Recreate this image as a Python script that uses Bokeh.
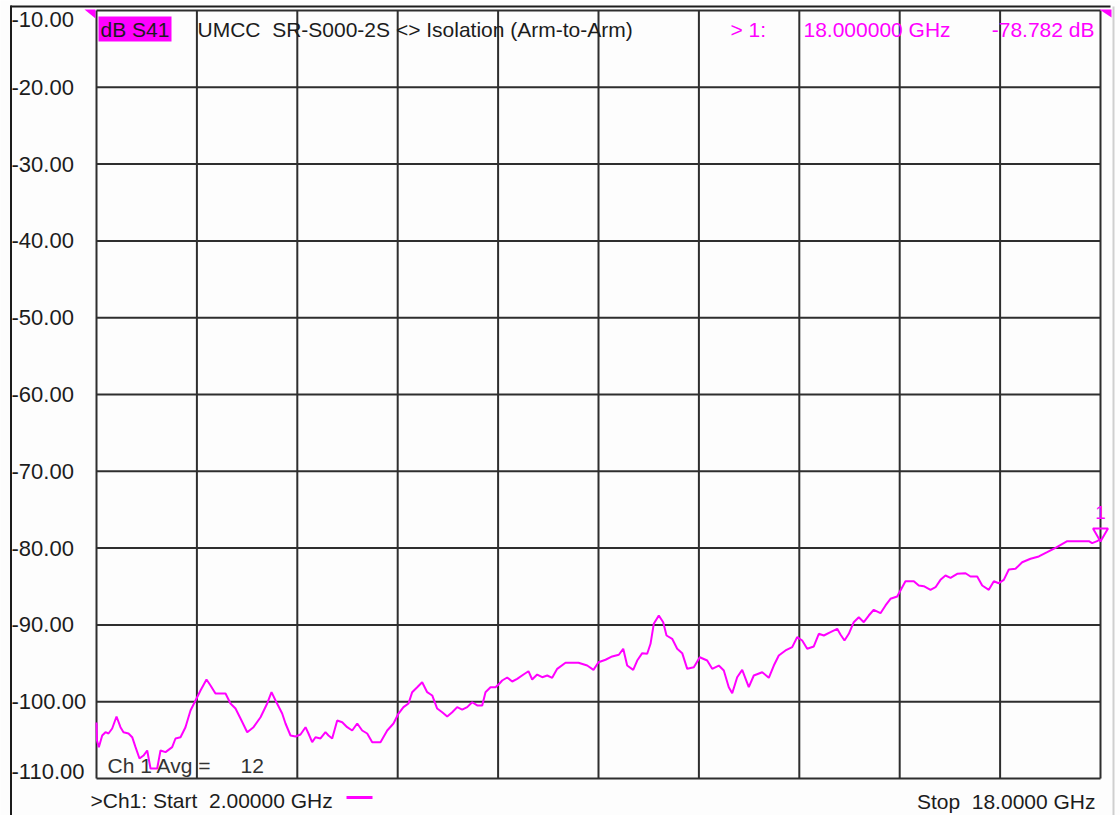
from bokeh.plotting import figure
from bokeh.models import Range1d
from bokeh.core.properties import value
from bokeh.embed import file_html
from bokeh.resources import INLINE
import numpy as np

# ---------------- data ----------------
START_GHZ = 2.0
STOP_GHZ = 18.0
Y_TOP = -10.0
Y_BOTTOM = -110.0
N_DIV = 10
y_ticks = [-10, -20, -30, -40, -50, -60, -70, -80, -90, -100, -110]
y_tick_labels = ["-10.00", "-20.00", "-30.00", "-40.00", "-50.00", "-60.00",
                 "-70.00", "-80.00", "-90.00", "-100.00", "-110.00"]

freq_ghz = [
    2.000, 2.008, 2.037, 2.091, 2.143, 2.191, 2.250, 2.319, 2.382, 2.430,
    2.510, 2.569, 2.622, 2.685, 2.749, 2.808, 2.861, 2.967, 3.020, 3.100,
    3.206, 3.259, 3.339, 3.418, 3.498, 3.578, 3.657, 3.753, 3.817, 3.896,
    3.976, 4.056, 4.135, 4.215, 4.295, 4.402, 4.502, 4.614, 4.720, 4.789,
    4.853, 4.959, 5.012, 5.092, 5.171, 5.251, 5.331, 5.378, 5.437, 5.490,
    5.570, 5.649, 5.697, 5.756, 5.836, 5.916, 5.995, 6.075, 6.155, 6.234,
    6.314, 6.394, 6.526, 6.633, 6.733, 6.813, 6.892, 6.972, 7.031, 7.111,
    7.190, 7.270, 7.350, 7.429, 7.509, 7.589, 7.669, 7.748, 7.828, 7.908,
    7.987, 8.067, 8.147, 8.199, 8.279, 8.359, 8.422, 8.465, 8.545, 8.625,
    8.704, 8.805, 8.884, 8.943, 9.023, 9.103, 9.183, 9.262, 9.342, 9.474,
    9.681, 9.820, 9.920, 10.000, 10.112, 10.218, 10.324, 10.394, 10.457, 10.553,
    10.617, 10.697, 10.776, 10.829, 10.881, 10.961, 11.031, 11.084, 11.174, 11.254,
    11.334, 11.414, 11.519, 11.614, 11.732, 11.812, 11.917, 11.997, 12.076, 12.131,
    12.210, 12.290, 12.395, 12.475, 12.609, 12.714, 12.794, 12.873, 12.980, 13.087,
    13.166, 13.246, 13.326, 13.431, 13.511, 13.591, 13.697, 13.804, 13.856, 13.920,
    13.989, 14.068, 14.148, 14.228, 14.307, 14.387, 14.494, 14.574, 14.653, 14.760,
    14.840, 14.892, 15.025, 15.104, 15.184, 15.291, 15.371, 15.450, 15.530, 15.610,
    15.716, 15.849, 15.928, 16.035, 16.115, 16.220, 16.300, 16.379, 16.459, 16.539,
    16.645, 16.752, 16.885, 17.017, 17.150, 17.283, 17.470, 17.814, 17.867, 17.947,
    18.000,
]
s41_db = [
    -102.71, -105.05, -105.92, -104.40, -103.97, -104.14, -103.49, -101.93, -103.32, -103.97,
    -104.14, -104.62, -105.92, -107.40, -107.01, -106.35, -108.70, -108.70, -106.35, -106.57,
    -105.92, -104.79, -104.62, -103.32, -101.15, -99.84, -98.54, -97.11, -97.89, -98.93,
    -98.93, -98.93, -100.23, -100.89, -102.19, -103.97, -103.32, -102.02, -100.23, -98.76,
    -99.84, -101.54, -102.84, -104.40, -104.53, -104.27, -103.32, -104.14, -105.27, -104.62,
    -104.79, -103.97, -104.40, -104.79, -102.45, -102.67, -103.32, -103.75, -102.84, -103.75,
    -104.14, -105.27, -105.27, -103.75, -102.84, -101.54, -100.71, -100.23, -98.76, -98.11,
    -97.46, -98.76, -99.19, -100.89, -101.37, -101.93, -101.37, -100.71, -101.02, -100.71,
    -100.07, -100.49, -100.49, -98.76, -98.11, -98.11, -97.63, -97.24, -96.85, -97.37,
    -97.02, -96.46, -96.03, -97.11, -96.46, -96.81, -96.59, -96.89, -95.72, -94.93,
    -94.93, -95.29, -95.85, -94.86, -94.54, -94.11, -93.89, -93.11, -95.29, -95.85,
    -94.64, -93.68, -93.76, -92.46, -89.86, -88.78, -89.65, -91.38, -91.81, -93.11,
    -93.68, -95.72, -95.51, -94.21, -94.64, -95.72, -95.29, -95.94, -98.11, -98.89,
    -96.81, -95.85, -98.11, -96.59, -96.16, -96.89, -95.29, -93.98, -93.33, -92.90,
    -91.60, -92.03, -93.11, -92.81, -91.16, -91.38, -90.95, -90.51, -91.25, -92.03,
    -91.16, -89.65, -89.00, -89.65, -88.78, -88.03, -88.48, -87.47, -86.60, -86.30,
    -85.09, -84.31, -84.31, -84.87, -84.96, -85.43, -85.09, -84.13, -83.57, -83.87,
    -83.35, -83.27, -83.70, -83.70, -84.87, -85.43, -84.31, -84.57, -84.13, -82.79,
    -82.70, -81.84, -81.39, -81.09, -80.53, -79.96, -79.10, -79.10, -79.36, -79.10,
    -78.782,
]
marker_freq = 18.0
marker_db = -78.782

# ---------------- layout ----------------
MAGENTA = "#ff00ff"
INK = "#1c1c1c"
GRID = "#2e2e2e"
FONT = value("Liberation Sans")
FS = "21px"
NB = "\u00a0"

W, H = 1120, 815
# page pixel geometry of the graticule
PX_L, PX_R, PY_T, PY_B = 96.0, 1100.0, 10.0, 778.0
FIG_L, FIG_T = 0.0, 0.0
gpp = (STOP_GHZ - START_GHZ) / (PX_R - PX_L)   # GHz per pixel
dpp = (Y_TOP - Y_BOTTOM) / (PY_B - PY_T)       # dB per pixel

x0 = START_GHZ - (PX_L - FIG_L) * gpp
x1 = STOP_GHZ + (FIG_L + W - PX_R) * gpp
y1 = Y_TOP + (PY_T - FIG_T) * dpp
y0 = Y_BOTTOM - (FIG_T + H - PY_B) * dpp


def X(px):
    return START_GHZ + (px - PX_L) * gpp


def Y(py):
    return Y_TOP - (py - PY_T) * dpp


p = figure(width=W, height=H, output_backend="svg", toolbar_location=None,
           x_range=Range1d(x0, x1), y_range=Range1d(y0, y1),
           x_axis_location=None, y_axis_location=None,
           min_border=0, min_border_left=0, min_border_right=0,
           min_border_top=0, min_border_bottom=0)
p.outline_line_color = None
p.grid.visible = False
p.background_fill_color = "#fdfdfd"
p.border_fill_color = "#fdfdfd"

# outer window frame
p.segment(x0=[X(10.5)], y0=[Y(5)], x1=[X(10.5)], y1=[y0], line_color=INK, line_width=2)
p.segment(x0=[X(10)], y0=[Y(6)], x1=[X(1110)], y1=[Y(6)], line_color=INK, line_width=2)
p.segment(x0=[X(1113)], y0=[Y(6)], x1=[X(1113)], y1=[y0], line_color="#cfcfcf", line_width=2)

# graticule
vx = np.linspace(START_GHZ, STOP_GHZ, N_DIV + 1)
p.segment(x0=vx, y0=[Y_BOTTOM] * len(vx), x1=vx, y1=[Y_TOP] * len(vx),
          line_color=GRID, line_width=2)
p.segment(x0=[START_GHZ] * len(y_ticks), y0=y_ticks, x1=[STOP_GHZ] * len(y_ticks), y1=y_ticks,
          line_color=GRID, line_width=2)

# y labels
lab_x = X(11)
baselines = ["middle"] * len(y_ticks)
baselines[0] = "top"
baselines[-1] = "bottom"
for yt, lab, bl in zip(y_ticks, y_tick_labels, baselines):
    yy = yt
    if bl == "top":
        yy = yt - 1 * dpp
    p.text(x=[lab_x], y=[yy], text=[lab], text_font=FONT, text_font_size="22px",
           text_color=INK, text_align="left", text_baseline=bl)

# trace
p.line(freq_ghz, s41_db, line_color=MAGENTA, line_width=2)

# marker
p.scatter([marker_freq], [marker_db + 6 * dpp], marker="inverted_triangle", size=15,
          fill_color=None, line_color=MAGENTA, line_width=2)
p.text(x=[marker_freq], y=[marker_db + 26 * dpp], text=["1"], text_font=FONT,
       text_font_size="19px", text_color=MAGENTA, text_align="center", text_baseline="middle")

# corner reference indicators
p.patch([X(84), X(95), X(95)], [Y(9), Y(9), Y(18)], fill_color=MAGENTA, line_color=None)
p.patch([X(1099), X(1111), X(1111)], [Y(9), Y(9), Y(17)], fill_color=MAGENTA, line_color=None)

# header
p.quad(left=[X(98)], right=[X(171)], top=[Y(16)], bottom=[Y(41)], fill_color=MAGENTA, line_color=None)
p.text(x=[X(100)], y=[Y(29)], text=["dB S41"], text_font=FONT, text_font_size=FS,
       text_color=INK, text_baseline="middle")
p.text(x=[X(197)], y=[Y(29)], text=["UMCC " + NB + "SR-S000-2S <> Isolation (Arm-to-Arm)"],
       text_font=FONT, text_font_size=FS, text_color=INK, text_baseline="middle")
p.text(x=[X(730)], y=[Y(29)], text=["> 1:"], text_font=FONT, text_font_size=FS,
       text_color=MAGENTA, text_baseline="middle")
p.text(x=[X(803)], y=[Y(29)], text=["18.000000 GHz"], text_font=FONT, text_font_size=FS,
       text_color=MAGENTA, text_baseline="middle")
p.text(x=[X(1094)], y=[Y(29)], text=["-78.782 dB"], text_font=FONT, text_font_size=FS,
       text_color=MAGENTA, text_align="right", text_baseline="middle")

# footer
p.text(x=[X(107)], y=[Y(765)], text=["Ch 1 Avg ="], text_font=FONT, text_font_size=FS,
       text_color="#333333", text_baseline="middle")
p.text(x=[X(240)], y=[Y(765)], text=["12"], text_font=FONT, text_font_size=FS,
       text_color="#333333", text_baseline="middle")
p.text(x=[X(90)], y=[Y(800)], text=[">Ch1: Start " + NB + "2.00000 GHz"], text_font=FONT,
       text_font_size=FS, text_color=INK, text_baseline="middle")
p.segment(x0=[X(346)], y0=[Y(797)], x1=[X(372)], y1=[Y(797)], line_color=MAGENTA, line_width=3)
p.text(x=[X(1095)], y=[Y(801)], text=["Stop " + NB + "18.0000 GHz"], text_font=FONT,
       text_font_size=FS, text_color=INK, text_align="right", text_baseline="middle")

open("out.html", "w").write(file_html(p, INLINE))
